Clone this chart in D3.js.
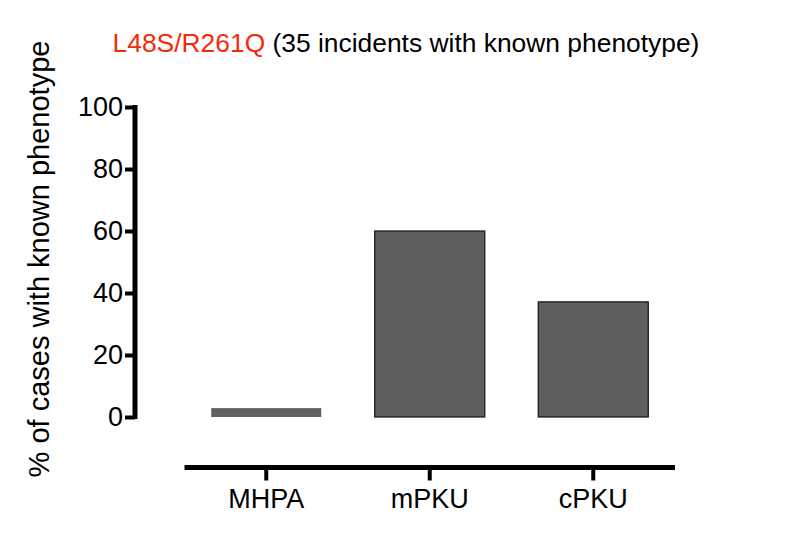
<!DOCTYPE html>
<html>
<head>
<meta charset="utf-8">
<script src="https://cdn.jsdelivr.net/npm/d3@7"></script>
<style>
  body { margin: 0; background: #fff; }
  text { font-family: "Liberation Sans", Arial, sans-serif; }
</style>
</head>
<body>
<svg id="chart" width="800" height="550"></svg>
<script>
const categories = ["MHPA", "mPKU", "cPKU"];
const values = [2.86, 60.0, 37.14];
const yTicks = [0, 20, 40, 60, 80, 100];
const titleRed = "L48S/R261Q";
const titleRest = " (35 incidents with known phenotype)";
const yLabel = "% of cases with known phenotype";

const svg = d3.select("#chart");

const y = d3.scaleLinear().domain([0, 100]).range([417, 107]);
const x = d3.scaleBand().domain(categories).range([184.5, 675]).padding(0);
const barW = x.step() * 0.673;

// bars
svg.append("g").selectAll("rect")
  .data(categories.map((c, i) => ({c, v: values[i]})))
  .enter().append("rect")
  .attr("x", d => x(d.c) + (x.step() - barW) / 2)
  .attr("width", barW)
  .attr("y", d => y(d.v))
  .attr("height", d => y(0) - y(d.v))
  .attr("fill", "#5f5f5f")
  .attr("stroke", d => d.v < 5 ? "none" : "#111")
  .attr("stroke-width", 1.2);

// y axis
const yAxis = d3.axisLeft(y).tickValues(yTicks).tickSize(10).tickPadding(2).tickSizeOuter(0);
const gy = svg.append("g").attr("transform", "translate(135,0)").call(yAxis);
gy.select(".domain").attr("stroke", "#000").attr("stroke-width", 5).attr("d", `M0,${y(100)-2}V${y(0)+2}`);
gy.selectAll(".tick line").attr("stroke", "#000").attr("stroke-width", 4);
gy.selectAll(".tick text").attr("font-size", 27).attr("fill", "#000")
  .attr("font-family", "'Liberation Sans', Arial, sans-serif");

// x axis
const xAxis = d3.axisBottom(x).tickSize(13).tickPadding(8).tickSizeOuter(0);
const gx = svg.append("g").attr("transform", "translate(0,467.5)").call(xAxis);
gx.select(".domain").attr("stroke", "#000").attr("stroke-width", 5).attr("d", "M184.5,0H675");
gx.selectAll(".tick line").attr("stroke", "#000").attr("stroke-width", 4);
gx.selectAll(".tick text").attr("font-size", 27).attr("fill", "#000")
  .attr("font-family", "'Liberation Sans', Arial, sans-serif");

// y label
svg.append("text")
  .attr("transform", "translate(49,259) rotate(-90)")
  .attr("text-anchor", "middle")
  .attr("font-size", 29)
  .attr("fill", "#000")
  .text(yLabel);

// title
const t = svg.append("text").attr("x", 406).attr("y", 52)
  .attr("text-anchor", "middle").attr("font-size", 26.4);
t.append("tspan").attr("fill", "#f52a0a").text(titleRed);
t.append("tspan").attr("fill", "#000").text(titleRest);
</script>
</body>
</html>
